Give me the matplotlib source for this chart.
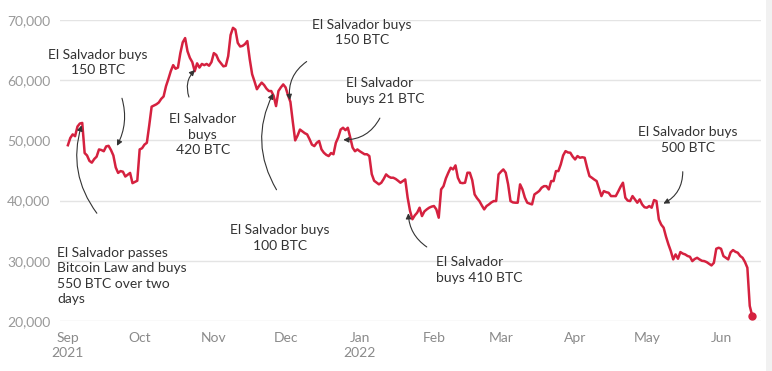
import matplotlib.pyplot as plt
import matplotlib.dates as mdates
import pandas as pd

# daily bitcoin price (USD), 1 Sep 2021 - 14 Jun 2022
start_date = '2021-09-01'
end_date = '2022-06-14'
btc_price = [
    # Sep
    49200, 50400, 51000, 50700, 52300, 52800, 52900, 47900, 47500, 46600,
    46300, 46900, 47300, 48500, 48400, 48200, 49000, 49100, 48400, 47500,
    45500, 44600, 44900, 44800, 44000, 44300, 44600, 42900, 43100, 43300,
    # Oct
    48500, 48700, 49300, 49600, 52500, 55600, 55800, 56000, 56300, 56900,
    57300, 59000, 60200, 61500, 62500, 61900, 62100, 64500, 66300, 67000,
    64800, 63700, 63000, 61500, 62800, 62100, 62700, 62500, 62700, 62400,
    63000,
    # Nov
    64500, 64200, 63300, 62800, 62300, 62400, 64000, 67500, 68700, 68400,
    66200, 65600, 65700, 66000, 66500, 63500, 61000, 59800, 58500, 59100,
    59600, 59200, 58600, 58200, 58200, 57400, 55700, 58200, 58800, 59300,
    # Dec
    58800, 57500, 56400, 53100, 50000, 50800, 51800, 51500, 51200, 51000,
    50200, 49300, 49050, 49600, 49900, 48500, 47950, 47600, 47400, 47900,
    47700, 49600, 50500, 51800, 52100, 51700, 52100, 50500, 48800, 48200,
    48500,
    # Jan
    48200, 47950, 47700, 47700, 47400, 44400, 43300, 43000, 42700, 42970,
    43600, 44350, 44000, 43800, 43800, 43600, 43300, 42970, 43240, 43520,
    40500, 38300, 36900, 37540, 38000, 38820, 37430, 38200, 38540, 38820,
    39000,
    # Feb
    39100, 38540, 37160, 41860, 42400, 43700, 44630, 45460, 45180, 45850,
    43800, 42970, 42900, 42970, 44630, 44630, 43400, 41030, 40400, 39920,
    39200, 38540, 39100, 39370, 39700, 39920, 39920, 44350,
    # Mar
    44800, 45180, 44630, 42700, 39920, 39700, 39650, 39650, 42700, 41860,
    40500, 39650, 39500, 39370, 41030, 41300, 41600, 42140, 42400, 42400,
    41860, 43240, 43240, 44900, 44900, 46000, 47500, 48220, 48000, 47950,
    47300,
    # Apr
    46840, 47400, 47120, 47200, 47120, 45500, 44070, 43800, 43500, 43240,
    42000, 40750, 41580, 41400, 41300, 40750, 40750, 40750, 41500, 42300,
    42970, 40480, 40000, 39920, 40750, 40200, 39650, 40200, 39370, 38900,
    # May
    38820, 39100, 38820, 40090, 39920, 36880, 36000, 35500, 34000, 32730,
    31620, 30230, 31060, 30340, 31450, 31200, 31060, 30800, 30670, 29950,
    30300, 30500, 30230, 30000, 29950, 29780, 29500, 29230, 29670, 32000,
    32170,
    # Jun
    32000, 30780, 30500, 30230, 31400, 31780, 31500, 31340, 30800, 30500,
    29800, 28850, 22500, 20900,
]

month_ticks = ['2021-09-01', '2021-10-01', '2021-11-01', '2021-12-01', '2022-01-01',
               '2022-02-01', '2022-03-01', '2022-04-01', '2022-05-01', '2022-06-01']
month_labels = ['Sep\n2021', 'Oct', 'Nov', 'Dec', 'Jan\n2022', 'Feb', 'Mar', 'Apr', 'May', 'Jun']
y_ticks = [20000, 30000, 40000, 50000, 60000, 70000]

dates = pd.date_range(start_date, end_date, freq='D')
t0 = pd.Timestamp(start_date)


def day(n):
    return t0 + pd.Timedelta(days=n)


# text, text pos (day, value), alignment, arrow tail (day, value), arrow tip (day, value), curvature
notes = [
    ('El Salvador buys\n150 BTC', (12.5, 62900), 'center', (22.6, 57000), (20.5, 49100), -0.2),
    ('El Salvador passes\nBitcoin Law and buys\n550 BTC over two\ndays', (-4.6, 27500), 'left',
     (12.1, 37900), (5.7, 52500), -0.25),
    ('El Salvador\nbuys\n420 BTC', (56.4, 50900), 'center', (50.6, 57200), (53.1, 61700), -0.3),
    ('El Salvador buys\n150 BTC', (122.9, 67900), 'center', (99.8, 63100), (92.8, 56700), 0.3),
    ('El Salvador\nbuys 21 BTC', (116.2, 58200), 'left', (130.4, 53700), (115.1, 50100), -0.3),
    ('El Salvador buys\n100 BTC', (88.6, 33800), 'center', (87.2, 41800), (85.8, 57800), -0.27),
    ('El Salvador\nbuys 410 BTC', (153.8, 28500), 'left', (150.0, 32300), (142.3, 37900), -0.25),
    ('El Salvador buys\n500 BTC', (259.2, 50100), 'center', (257.0, 44800), (248.9, 39500), -0.3),
]

plt.rcParams['font.family'] = ['Lato', 'DejaVu Sans']

fig = plt.figure(figsize=(7.72, 3.71), dpi=100, facecolor='white')
ax = fig.add_axes([60 / 772, 1 - 321 / 371, 701 / 772, 301 / 371])
ax.set_facecolor('white')

# thin grey strip on the right edge
fig.patches.append(plt.Rectangle((766 / 772, 0), 6 / 772, 1, transform=fig.transFigure,
                                 facecolor='#f1f1f1', edgecolor='none', zorder=0))

line_color = '#d5213f'
ax.plot(dates, btc_price, color=line_color, lw=1.8, solid_joinstyle='round', zorder=3, clip_on=False)
ax.plot(dates[-1:], btc_price[-1:], 'o', color=line_color, ms=5, zorder=4, clip_on=False)

ax.set_ylim(20000, 70000)
ax.set_xlim(day(-3.3), day(289.7))
ax.set_yticks(y_ticks)
ax.set_yticklabels([f'{v:,}' for v in y_ticks])
ax.set_xticks(pd.to_datetime(month_ticks))
ax.set_xticklabels(month_labels, linespacing=1.25)

ax.grid(axis='y', color='#e4e4e4', lw=1)
ax.set_axisbelow(True)
for s in ax.spines.values():
    s.set_visible(False)
ax.tick_params(axis='both', length=0, labelsize=10, labelcolor='#999999')
ax.tick_params(axis='x', pad=8, labelcolor='#8a8a8a')
ax.tick_params(axis='y', pad=7)

for text, (tx, ty), ha, (ax0, ay0), (ax1, ay1), rad in notes:
    ax.text(day(tx), ty, text, ha=ha, va='center', fontsize=10, color='#333333',
            linespacing=1.35, zorder=5)
    ax.annotate('', xy=(day(ax1), ay1), xytext=(day(ax0), ay0),
                arrowprops=dict(arrowstyle='-|>', color='#333333', lw=0.8,
                                mutation_scale=8, shrinkA=0, shrinkB=0,
                                connectionstyle=f'arc3,rad={rad}'),
                zorder=5)

fig.savefig('out.png', dpi=100, facecolor='white')
